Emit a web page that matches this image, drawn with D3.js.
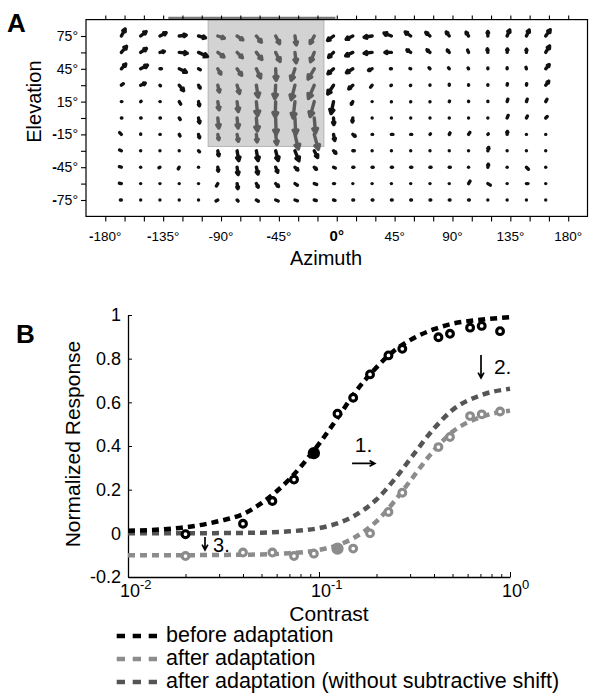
<!DOCTYPE html>
<html><head><meta charset="utf-8">
<script src="https://cdn.jsdelivr.net/npm/d3@7"></script>
<style>
body{margin:0;background:#fff}
svg{display:block}
text{font-family:"Liberation Sans",Arial,Helvetica,sans-serif;fill:#000}
</style>
</head><body>
<svg id="chart" width="589" height="693"></svg>
<script>
// ---------------- Panel A data ----------------
const azimuths = [-167.5,-152.5,-137.5,-122.5,-107.5,-92.5,-77.5,-62.5,-47.5,-32.5,-17.5,-2.5,12.5,27.5,42.5,57.5,72.5,87.5,102.5,117.5,132.5,147.5,162.5];
const elevations = [75,60,45,30,15,0,-15,-30,-45,-60,-75];
// horizontal component (positive = rightward)
const flowU = [
 [3.8,5.5,6.2,7,7,6.6,5.8,5,3.9,1.4,-4.1,-6,-6.7,-8,-7.4,-5.5,-4.2,-3,-2.5,0,2.6,2.8,4.5],
 [5.2,5.8,4.4,8,9,6.2,5.3,5.5,4.4,1.2,-3.7,-5,-7.2,-8,-6.5,-3.8,-3,-2,-1,-0.5,0.3,0,3.9],
 [4.4,6.8,1.5,7.2,1.8,3,4.6,4.2,0.5,-3.8,-6.2,-5.6,-6.4,-3.6,-1,-0.8,-1,-0.8,-0.5,0,0,-0.5,3.5],
 [2,4.6,0.5,4.4,1.6,1.6,2.4,1.8,-0.8,-3.7,-5.8,-5.8,-4.1,-1.6,-0.5,-0.3,0,0,0,0,0.3,0.3,3],
 [0.5,0.5,0.3,1.5,0.9,1.2,1.2,1.3,-0.5,-1.9,-4.1,-2.5,-1.5,0,0,0,0,0.3,0,0,0.7,0.8,1.3],
 [0.5,0.5,0.5,1,1,1,1,1,0.5,0.8,1.3,0.3,-0.5,0,0,0,0,0,0,0,1,1,1.5],
 [-1.8,0,0.3,0.8,1,1,1.3,0.7,1.2,3.4,4.1,1.2,2.4,0.5,1.5,1,0.5,0.8,1.3,0.5,0.3,0,0],
 [-1.8,0,0,0,1,1,1.7,1.7,2.5,4,3.4,2.4,1.5,0,0,0,0,0,0,0.8,0,0,0],
 [-2,0,-1,-1,0,0.5,1,1.6,2,2.9,2.2,1.8,1,1,1,1,1,1,0,0.5,0,2,0],
 [-2,0,0,0,0,-1.4,0.8,1.8,2.8,2.5,2.4,1,0,0,0,0,0,0,1.5,2.5,0,1.5,0],
 [-1,0,0,0,0,-1.8,1,2,2.5,2.5,2,1.5,0.8,0.8,0.8,0.8,0.8,0.8,0.8,0,0,0,0]
];
// vertical component (positive = upward)
const flowV = [
 [7,4.4,3.3,0.9,-1.8,-2.2,-3.9,-6.2,-7.6,-8.9,-7.5,-4.5,-3.3,-1.3,2.9,4,3.6,4,3.8,4.5,6,6,6.3],
 [6.1,3.9,1,-0.9,-4.2,-4.6,-5.3,-7.1,-9,-10.4,-9.3,-5,-3.4,-0.9,0,2.5,2.6,2.3,2.3,3.5,3.5,3.2,6.4],
 [4.8,3.6,0,-3.4,-0.9,-5.2,-6.5,-9.1,-11.5,-11.4,-10.3,-5,-3.9,-1.6,0,0.3,1,1,0.8,0.8,1,1.5,4.2],
 [1.5,2,-0.5,-5.5,-2.8,-6.8,-8.2,-11.9,-13.5,-14.5,-13.3,-8.8,-3.7,-2,-0.3,-0.3,0.3,1,0.5,0.5,1.5,1.5,4],
 [0,0.3,0,-2.5,-4.2,-8.2,-9.9,-14,-15.5,-16.4,-15,-12,-2.6,0,-0.3,-0.3,-0.3,0.5,0.3,0.3,2.4,2.4,2.4],
 [0,0,0,-1.5,-4.9,-10,-10,-13,-16.5,-16.5,-15,-6.5,-4,0,0,0,0,0,0,0,2.6,2,1.5],
 [1.8,0.5,0,-1.5,-3.4,-5.2,-6.9,-7.5,-10,-14.6,-15,-6,-1.9,0,0,0,0.5,1.5,2,0.5,3,0,0],
 [0.8,0,0,0,-1,-5,-9.8,-9.8,-9.7,-10,-6.7,-2.5,0,0,0,0,0,0,0,3.4,0,0,0],
 [0.5,0,-0.5,-1.7,0,-4,-7.4,-6.8,-5.1,-2.8,-2.1,-0.8,0,0,0,0,0,0,0,3,0,-2,0],
 [0.3,0,0,0,0,-2.4,-5,-3.6,-2.8,-1.6,-0.8,0,0,0,0,0,0,0,2.5,-1.5,0,0,0],
 [0,0,0,0,0,-1,-1,-1.2,-1,-0.8,-0.5,-0.3,0,0,0,0,0,0,0,0,0,0,0]
];
const adaptAz = [-100, -10];      // shaded adaptation region, azimuth
const adaptEl = [-26, 90];        // shaded adaptation region, elevation
const azTickValues = [-180,-165,-150,-135,-120,-105,-90,-75,-60,-45,-30,-15,0,15,30,45,60,75,90,105,120,135,150,165,180];
const azLabelValues = [-180,-135,-90,-45,0,45,90,135,180];
const azLabels = ["-180°","-135°","-90°","-45°","0°","45°","90°","135°","180°"];
const elTickValues = [-75,-60,-45,-30,-15,0,15,30,45,60,75];
const elLabelValues = [75,45,15,-15,-45,-75];
const elLabels = ["75°","45°","15°","-15°","-45°","-75°"];

// ---------------- Panel B data ----------------
const contrasts = [0.020,0.040,0.057,0.074,0.094,0.125,0.151,0.185,0.231,0.273,0.422,0.485,0.618,0.711,0.887];
const beforeResp = [-0.004,0.044,0.148,0.246,0.367,0.548,0.621,0.728,0.815,0.845,0.898,0.914,0.942,0.950,0.926];
const afterResp = [-0.104,-0.088,-0.088,-0.104,-0.093,-0.070,-0.070,0.0,0.098,0.186,0.395,0.441,0.537,0.545,0.558];
const beforeFilled = [0.094];
const afterFilled = [0.125];
const fitContrasts = [0.01,0.015,0.02,0.03,0.04,0.05,0.07,0.1,0.13,0.15,0.2,0.25,0.3,0.4,0.5,0.7,1.0];
const beforeFit = [0.012,0.018,0.028,0.056,0.088,0.138,0.248,0.41,0.55,0.63,0.76,0.84,0.885,0.935,0.96,0.978,0.99];
const afterFit = [-0.1,-0.1,-0.1,-0.099,-0.098,-0.097,-0.091,-0.076,-0.049,-0.024,0.055,0.15,0.24,0.38,0.465,0.532,0.562];
const noShiftFit = [0.0,0.0,0.0,0.001,0.002,0.003,0.009,0.024,0.051,0.076,0.155,0.25,0.34,0.48,0.565,0.632,0.662];
const yTickValues = [-0.2,0,0.2,0.4,0.6,0.8,1];
const yTickLabels = ["-0.2","0","0.2","0.4","0.6","0.8","1"];
const xMajorTicks = [0.01,0.1,1];
const xMajorExps = ["-2","-1","0"];
const xMinorTicks = [0.02,0.03,0.04,0.05,0.06,0.07,0.08,0.09,0.2,0.3,0.4,0.5,0.6,0.7,0.8,0.9];
const legendLabels = ["before adaptation","after adaptation","after adaptation (without subtractive shift)"];

// ---------------- drawing ----------------
const svg = d3.select("#chart");
const FONT = '"Liberation Sans",Arial,sans-serif';

// ===== Panel A =====
const xA = d3.scaleLinear().domain([-195,195]).range([86,587.5]);
const yA = d3.scaleLinear().domain([-90,90]).range([216.4,19.6]);
const gA = svg.append("g");

gA.append("rect")
  .attr("x", xA(adaptAz[0])).attr("y", yA(adaptEl[1]))
  .attr("width", xA(adaptAz[1]) - xA(adaptAz[0]))
  .attr("height", yA(adaptEl[0]) - yA(adaptEl[1]))
  .attr("fill", "#d3d3d3").attr("stroke", "#b4b4b4").attr("stroke-width", 1);

// frame
gA.append("rect")
  .attr("x", xA(-195)).attr("y", yA(90))
  .attr("width", xA(195) - xA(-195)).attr("height", yA(-90) - yA(90))
  .attr("fill", "none").attr("stroke", "#000").attr("stroke-width", 1.2);
// darker strip on top edge
gA.append("line").attr("x1", xA(-131)).attr("x2", xA(-1))
  .attr("y1", yA(90) - 1.8).attr("y2", yA(90) - 1.8)
  .attr("stroke", "#777").attr("stroke-width", 2.2);

// ticks (outward)
const tb = gA.append("g").attr("transform", `translate(0,${yA(-90)})`)
  .call(d3.axisBottom(xA).tickValues(azTickValues).tickSize(5).tickSizeOuter(0).tickFormat(""));
const tt = gA.append("g").attr("transform", `translate(0,${yA(90)})`)
  .call(d3.axisTop(xA).tickValues(azTickValues).tickSize(4).tickSizeOuter(0).tickFormat(""));
const tl = gA.append("g").attr("transform", `translate(${xA(-195)},0)`)
  .call(d3.axisLeft(yA).tickValues(elTickValues).tickSize(5).tickSizeOuter(0).tickFormat(""));
[tb, tt, tl].forEach(g => { g.select(".domain").remove(); g.selectAll("line").attr("stroke", "#000").attr("stroke-width", 1.1); });

function labelWithMinus(sel, str) {
  if (str[0] === "-") {
    sel.append("tspan").attr("font-weight", "bold").text("-");
    sel.append("tspan").text(str.slice(1));
  } else {
    sel.append("tspan").text(str);
  }
}
azLabelValues.forEach((v, i) => {
  const t = gA.append("text").attr("x", xA(v)).attr("y", yA(-90) + 25)
    .attr("text-anchor", "middle").attr("font-size", v === 0 ? 15 : 13.5);
  if (v === 0) t.attr("font-weight", "bold").text(azLabels[i]);
  else if (v === -90) t.text(azLabels[i]);
  else labelWithMinus(t, azLabels[i]);
});
elLabelValues.forEach((v, i) => {
  const t = gA.append("text").attr("x", 78).attr("y", yA(v) + 5)
    .attr("text-anchor", "end").attr("font-size", 14);
  labelWithMinus(t, elLabels[i]);
});
gA.append("text").attr("x", 326).attr("y", 265).attr("text-anchor", "middle")
  .attr("font-size", 20).text("Azimuth");
gA.append("text").attr("transform", `translate(41,${yA(15)}) rotate(-90)`)
  .attr("text-anchor", "middle").attr("font-size", 20).text("Elevation");
svg.append("text").attr("x", 7).attr("y", 32).attr("font-size", 26).attr("font-weight", "bold").text("A");

// vector field
const arrowScale = 1.0;
const gV = gA.append("g");
elevations.forEach((el, i) => {
  azimuths.forEach((az, j) => {
    const x0 = xA(az), y0 = yA(el);
    const u = flowU[i][j] * arrowScale, v = flowV[i][j] * arrowScale;
    const x1 = x0 + u, y1 = y0 - v;
    const L = Math.hypot(u, v);
    const inBox = az >= adaptAz[0] && az <= adaptAz[1] && el >= adaptEl[0];
    const col = inBox ? "#5c5c5c" : "#111";
    const p = d3.path();
    p.moveTo(x0, y0); p.lineTo(x1 + 0.01, y1);
    if (L > 3) {
      const a = Math.atan2(y1 - y0, x1 - x0);
      const h = Math.min(0.36 * L, 5), s = 0.5;
      p.moveTo(x1 - h * Math.cos(a - s), y1 - h * Math.sin(a - s));
      p.lineTo(x1, y1);
      p.lineTo(x1 - h * Math.cos(a + s), y1 - h * Math.sin(a + s));
    }
    gV.append("path").attr("d", p.toString()).attr("fill", "none")
      .attr("stroke", col).attr("stroke-width", 3.4)
      .attr("stroke-linecap", "round").attr("stroke-linejoin", "round");
  });
});

// ===== Panel B =====
const xB = d3.scaleLog().domain([0.01, 1]).range([128, 510]);
const yB = d3.scaleLinear().domain([-0.2, 1]).range([577, 315]);
const gB = svg.append("g");

const yAx = gB.append("g").attr("transform", `translate(${xB(0.01)},0)`)
  .call(d3.axisLeft(yB).tickValues(yTickValues).tickSizeInner(-4).tickSizeOuter(0).tickPadding(7)
    .tickFormat((d, i) => yTickLabels[i]));
yAx.select(".domain").attr("stroke", "#000").attr("stroke-width", 1.3);
yAx.selectAll("text").attr("font-size", 18).attr("font-family", FONT).attr("fill", "#000");

const xAx = gB.append("g").attr("transform", `translate(0,${yB(-0.2)})`)
  .call(d3.axisBottom(xB).tickValues(xMinorTicks).tickSizeInner(-3).tickSizeOuter(0).tickFormat(""));
xAx.select(".domain").attr("stroke", "#000").attr("stroke-width", 1.3);
const xAxM = gB.append("g").attr("transform", `translate(0,${yB(-0.2)})`)
  .call(d3.axisBottom(xB).tickValues(xMajorTicks).tickSizeInner(-5).tickSizeOuter(0).tickFormat(""));
xAxM.select(".domain").remove();

xMajorTicks.forEach((v, i) => {
  const t = gB.append("text").attr("x", xB(v) - 8).attr("y", 597).attr("font-size", 18);
  t.append("tspan").text("10");
  t.append("tspan").attr("font-size", 13).attr("dy", -8).text(xMajorExps[i]);
});
gB.append("text").attr("x", 329).attr("y", 621).attr("text-anchor", "middle")
  .attr("font-size", 21).text("Contrast");
gB.append("text").attr("transform", `translate(80,444) rotate(-90)`)
  .attr("text-anchor", "middle").attr("font-size", 21).text("Normalized Response");
svg.append("text").attr("x", 16).attr("y", 343).attr("font-size", 26).attr("font-weight", "bold").text("B");

const colBefore = "#000", colAfter = "#8c8c8c", colNoShift = "#555";
const line = d3.line().x(d => xB(d[0])).y(d => yB(d[1])).curve(d3.curveMonotoneX);
function drawFit(vals, col) {
  gB.append("path").datum(fitContrasts.map((c, i) => [c, vals[i]]))
    .attr("d", line).attr("fill", "none").attr("stroke", col)
    .attr("stroke-width", 4.5).attr("stroke-dasharray", "7 5");
}
drawFit(afterFit, colAfter);
drawFit(noShiftFit, colNoShift);
drawFit(beforeFit, colBefore);

function drawPts(vals, col, filled) {
  gB.append("g").selectAll("circle").data(contrasts.map((c, i) => [c, vals[i]])).join("circle")
    .attr("cx", d => xB(d[0])).attr("cy", d => yB(d[1]))
    .attr("r", d => filled.includes(d[0]) ? 4.6 : 3.4)
    .attr("fill", d => filled.includes(d[0]) ? col : "#fff")
    .attr("stroke", col).attr("stroke-width", 3.1);
}
drawPts(afterResp, colAfter, afterFilled);
drawPts(beforeResp, colBefore, beforeFilled);

// annotations
function arrow(x1, y1, x2, y2) {
  const a = Math.atan2(y2 - y1, x2 - x1), h = 6, s = 0.5;
  const p = d3.path();
  p.moveTo(x1, y1); p.lineTo(x2, y2);
  p.moveTo(x2 - h * Math.cos(a - s), y2 - h * Math.sin(a - s)); p.lineTo(x2, y2);
  p.lineTo(x2 - h * Math.cos(a + s), y2 - h * Math.sin(a + s));
  gB.append("path").attr("d", p.toString()).attr("fill", "none").attr("stroke", "#000").attr("stroke-width", 1.7);
}
gB.append("text").attr("x", xB(0.154)).attr("y", yB(0.372)).attr("font-size", 21).text("1.");
arrow(xB(0.149), yB(0.32), xB(0.196), yB(0.32));
arrow(xB(0.705), yB(0.817), xB(0.705), yB(0.712));
gB.append("text").attr("x", xB(0.824)).attr("y", yB(0.73)).attr("font-size", 21).text("2.");
arrow(xB(0.0253), yB(-0.017), xB(0.0253), yB(-0.076));
gB.append("text").attr("x", xB(0.0279)).attr("y", yB(-0.086)).attr("font-size", 20).text("3.");

// legend
const legCols = [colBefore, colAfter, colNoShift];
const legY = [636, 659, 682];
legendLabels.forEach((lab, i) => {
  svg.append("line").attr("x1", 116.7).attr("x2", 158.3).attr("y1", legY[i]).attr("y2", legY[i])
    .attr("stroke", legCols[i]).attr("stroke-width", 4.5).attr("stroke-dasharray", "8.3 7.7");
  svg.append("text").attr("x", 166).attr("y", legY[i] + 6.3).attr("font-size", 21.5).text(lab);
});
svg.selectAll("text").attr("font-family", FONT);
</script>
</body></html>
